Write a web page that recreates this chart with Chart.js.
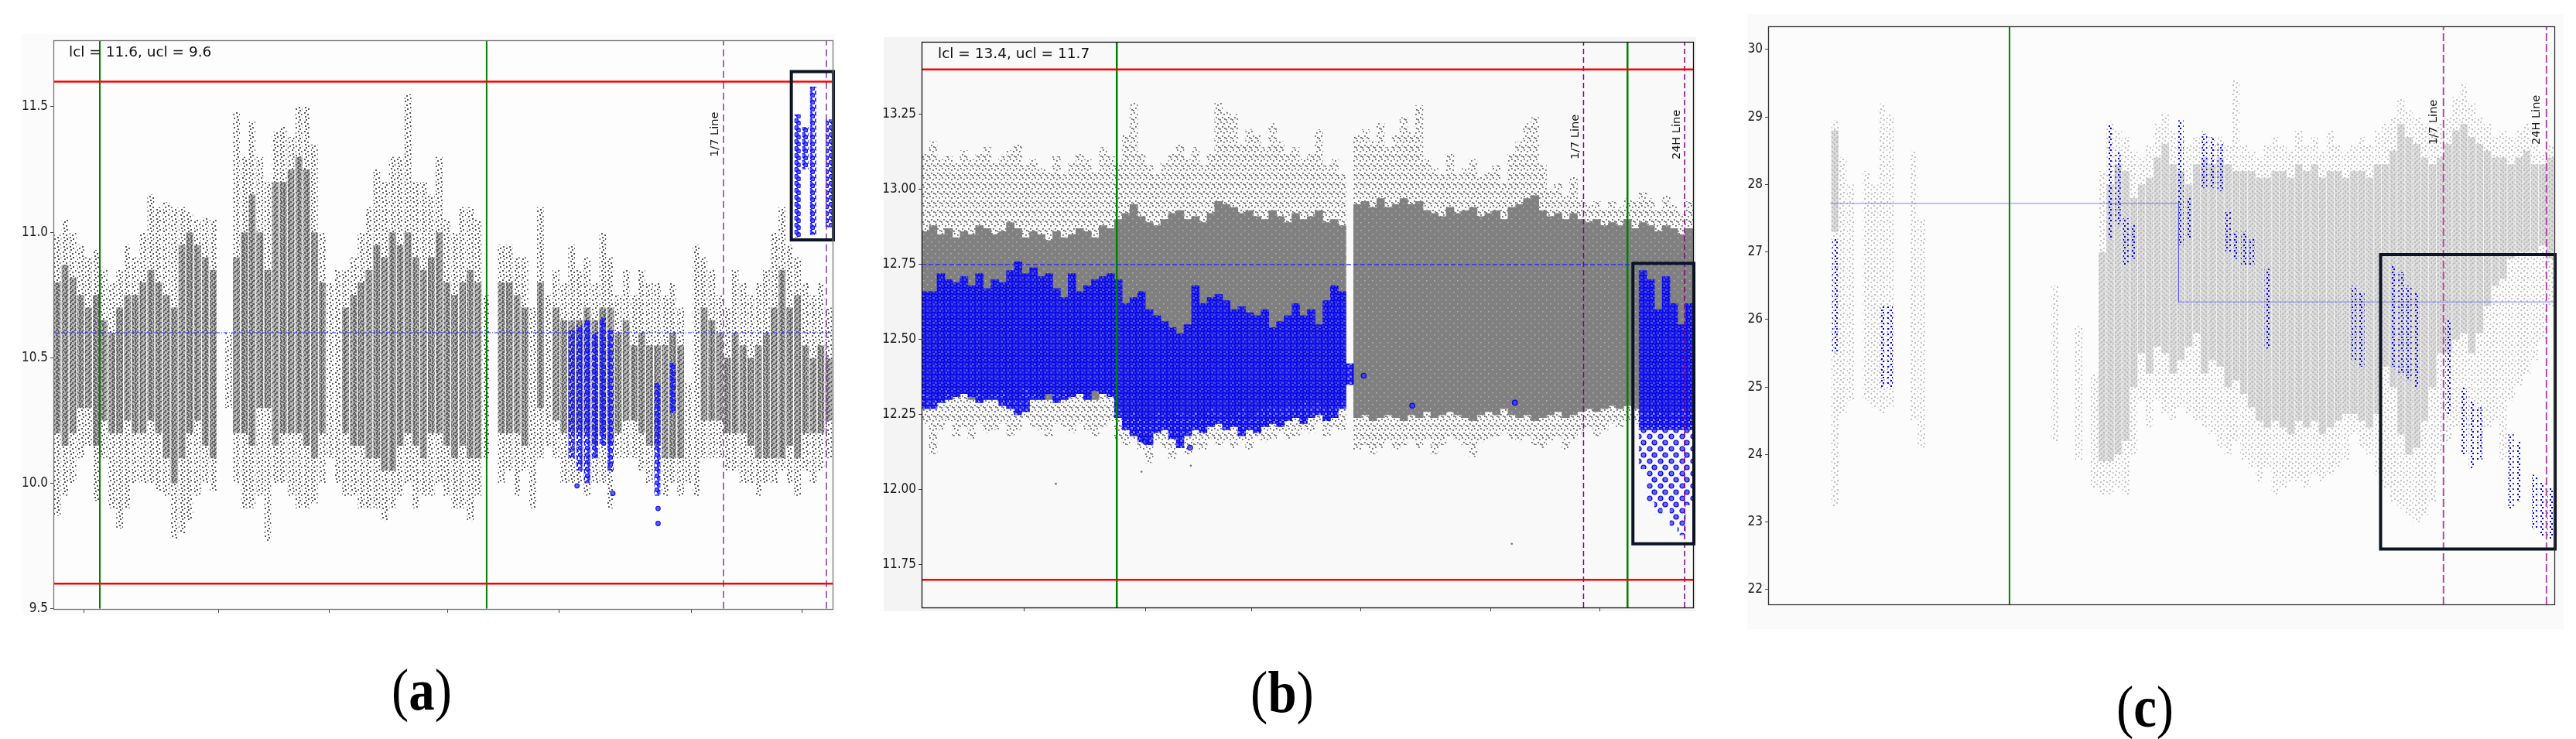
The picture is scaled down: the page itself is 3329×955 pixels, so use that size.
<!DOCTYPE html>
<html>
<head>
<meta charset="utf-8">
<script src="https://cdn.jsdelivr.net/npm/chart.js@4.4.1/dist/chart.umd.min.js"></script>
<style>
  body { margin: 0; width: 3329px; height: 955px; background: #fff; position: relative; overflow: hidden; }
  .fig { position: absolute; }
  canvas { position: absolute; top: 0; }
  .cap {
    position: absolute; width: 200px; text-align: center;
    font-family: 'Liberation Serif', 'DejaVu Serif', serif;
    font-size: 76px; line-height: 76px; color: #000;
    transform: scaleX(0.88);
  }
  .cap b { font-weight: bold; }
</style>
</head>
<body>
<div class="fig" style="left:28px;top:44px;width:1052px;height:750px;background:#fbfbfb"></div>
<div class="fig" style="left:1142px;top:48px;width:1050px;height:742px;background:#f4f4f4"></div>
<div class="fig" style="left:2258px;top:18px;width:1055px;height:795px;background:#fafafa"></div>

<canvas id="panelA" width="1090" height="800" style="left:0px"></canvas>
<canvas id="panelB" width="1080" height="800" style="left:1120px"></canvas>
<canvas id="panelC" width="1100" height="800" style="left:2220px"></canvas>

<div class="cap" style="left:445px;top:853px">(<b>a</b>)</div>
<div class="cap" style="left:1557px;top:856px">(<b>b</b>)</div>
<div class="cap" style="left:2672px;top:875px">(<b>c</b>)</div>

<script>
// Three control-chart panels. The x axis of every panel runs 0..100 (time index,
// read as % of the plotted span); the point clouds are summarised per 1-unit slot
// as a sparse outer range and a dense core range.

// ---------------- panel (a) ----------------
const A_Y_TICKS = [9.5, 10.0, 10.5, 11.0, 11.5];
const A_X_TICKS = [3.97, 21.25, 35.45, 50.6, 64.85, 81.9, 96.1];
const A_LIMITS = [11.6, 9.6];          // lcl, ucl lines
const A_MEAN = 10.6;
const A_GREEN = [5.96, 55.6];
const A_PURPLE = [86.0, 99.2];
const A_BOX_X = [94.7, 100.1, 100.1, 94.7, 94.7];
const A_BOX_Y = [11.64, 11.64, 10.97, 10.97, 11.64];

const A_OUT_HI = [10.99,11.05,11.00,10.95,10.90,10.93,10.85,10.80,10.85,10.95,
  10.90,11.00,11.15,11.10,11.12,11.10,11.10,11.08,11.05,11.06,
  11.05,null,10.60,11.48,11.30,11.44,11.30,11.20,11.40,11.42,
  11.38,11.50,11.50,11.35,11.00,10.80,10.85,10.85,10.90,11.00,
  11.10,11.25,11.20,11.30,11.30,11.55,11.20,11.20,11.15,11.30,
  11.05,11.00,11.10,11.10,11.05,10.75,null,10.95,10.95,10.90,
  10.90,10.70,11.10,10.75,10.85,10.80,10.95,10.85,10.90,10.80,
  11.00,10.90,10.75,10.85,10.75,10.85,10.80,10.80,10.75,10.80,
  10.70,10.40,10.95,10.90,10.85,10.75,10.70,10.85,10.80,10.75,
  10.80,10.85,11.00,11.10,10.95,10.90,10.80,10.75,10.80,10.70];
const A_OUT_LO = [9.87,9.95,10.00,10.10,10.15,9.93,10.10,9.90,9.82,9.90,
  10.00,10.00,10.00,9.97,9.95,9.78,9.80,9.85,9.95,10.00,
  9.97,null,10.30,10.00,9.90,9.90,9.95,9.77,10.00,10.00,
  9.95,9.90,9.90,9.92,10.00,10.10,10.00,9.95,9.95,9.90,
  9.90,9.90,9.85,9.90,9.95,10.00,9.90,9.95,9.95,10.00,
  9.95,9.90,9.90,9.85,9.95,10.10,null,10.00,10.05,9.95,
  10.05,9.90,10.10,10.15,10.10,10.00,10.00,10.00,9.95,10.00,
  10.00,9.90,10.10,10.10,10.10,10.05,10.00,10.05,9.95,10.00,
  9.95,10.00,9.95,10.10,10.10,10.10,10.05,10.05,10.00,10.00,
  9.95,10.00,10.00,10.05,10.00,9.95,10.05,10.00,10.05,10.10];
const A_CORE_HI = [10.80,10.87,10.82,10.75,10.70,10.75,10.65,10.60,10.70,10.75,
  10.75,10.80,10.85,10.80,10.75,10.70,10.95,11.00,10.95,10.90,
  10.85,null,null,10.90,11.00,11.15,11.00,10.85,11.20,11.20,
  11.25,11.30,11.25,11.00,10.80,null,null,10.70,10.75,10.80,
  10.85,10.95,10.90,11.00,10.95,11.00,10.90,10.85,10.90,11.00,
  10.80,10.75,10.80,10.85,10.80,null,null,10.80,10.80,10.75,
  10.70,null,10.80,null,10.70,10.65,10.65,10.65,10.70,10.65,
  10.70,10.70,10.60,10.65,10.55,10.60,10.55,10.55,10.55,10.60,
  10.55,null,null,10.70,10.65,10.60,10.50,10.60,10.55,10.50,
  10.55,10.60,10.70,10.85,10.70,10.75,10.55,10.50,10.55,10.50];
const A_CORE_LO = [10.20,10.15,10.20,10.30,10.30,10.15,10.25,10.20,10.20,10.25,
  10.20,10.20,10.25,10.20,10.10,10.00,10.10,10.20,10.25,10.15,
  10.10,null,null,10.20,10.20,10.15,10.30,10.30,10.15,10.20,
  10.20,10.20,10.15,10.10,10.20,null,null,10.20,10.15,10.15,
  10.10,10.10,10.05,10.05,10.15,10.20,10.15,10.10,10.20,10.20,
  10.15,10.10,10.15,10.10,10.10,null,null,10.20,10.20,10.20,
  10.15,null,10.30,null,10.25,10.20,10.20,10.20,10.20,10.15,
  10.20,10.15,10.20,10.25,10.25,10.20,10.15,10.15,10.10,10.10,
  10.10,null,null,10.25,10.25,10.25,10.20,10.20,10.20,10.15,
  10.10,10.10,10.10,10.10,10.15,10.10,10.20,10.20,10.20,10.25];
const A_BLUE_SLOTS = [66, 67, 68, 69, 70, 71, 77, 79, 95, 96, 97, 99];
const A_BLUE_HI = [10.61, 10.63, 10.65, 10.60, 10.66, 10.61, 10.40, 10.48, 11.47, 11.42, 11.58, 11.45];
const A_BLUE_LO = [10.10, 10.05, 10.00, 10.10, 10.15, 10.05, 9.95, 10.28, 10.98, 11.25, 10.99, 11.02];
const A_BLUE_PTS_X = [67.2, 71.8, 77.6, 77.6];
const A_BLUE_PTS_Y = [9.99, 9.96, 9.90, 9.84];

// ---------------- panel (b) ----------------
const B_Y_TICKS = [11.75, 12.0, 12.25, 12.5, 12.75, 13.0, 13.25];
const B_X_TICKS = [13.3, 29.0, 42.8, 56.9, 73.8, 87.9];
const B_LIMITS = [13.4, 11.7];
const B_MEAN = 12.75;
const B_GREEN = [25.3, 91.5];
const B_PURPLE = [85.8, 98.9];
const B_BOX_X = [92.2, 100.1, 100.1, 92.2, 92.2];
const B_BOX_Y = [12.754, 12.754, 11.82, 11.82, 12.754];

const B_OUT_HI = [13.12,13.16,13.10,13.11,13.09, 13.13,13.10,13.12,13.14,13.09,
  13.11,13.13,13.15,13.08,13.10, 13.07,13.06,13.11,13.05,13.09,
  13.12,13.10,13.06,13.14,13.11, 13.09,13.18,13.29,13.12,13.08,
  13.05,13.09,13.12,13.15,13.10, 13.14,13.08,13.12,13.29,13.26,
  13.25,13.15,13.20,13.18,13.14, 13.22,13.16,13.12,13.14,13.10,
  13.12,13.20,13.08,13.10,13.05, null,13.18,13.20,13.16,13.22,
  13.14,13.18,13.24,13.19,13.28, 13.10,13.07,13.05,13.12,13.05,
  13.07,13.10,13.04,13.06,13.08, 13.02,13.12,13.16,13.22,13.24,
  13.08,13.00,13.02,12.98,13.04, 12.97,12.95,12.96,12.93,12.96,
  12.94,12.97,12.96,12.99,12.97, 12.93,12.98,12.95,12.92,12.96];
const B_OUT_LO = [12.22,12.12,12.20,12.23,12.18, 12.21,12.17,12.22,12.19,12.20,
  12.22,12.18,12.20,12.24,12.21, 12.20,12.18,12.22,12.21,12.19,
  12.22,12.20,12.18,12.21,12.23, 12.17,12.15,12.17,12.13,12.09,
  12.16,12.14,12.10,12.15,12.12, 12.15,12.13,12.17,12.15,12.16,
  12.14,12.16,12.13,12.18,12.16, 12.17,12.19,12.17,12.18,12.20,
  12.19,12.22,12.18,12.21,12.20, null,12.13,12.15,12.12,12.14,
  12.16,12.13,12.15,12.17,12.14, 12.17,12.12,12.15,12.18,12.16,
  12.15,12.11,12.16,12.17,12.18, 12.19,12.17,12.16,12.18,12.15,
  12.14,12.16,12.18,12.13,12.17, 12.19,12.21,12.18,12.20,12.22,
  12.21,12.23,12.22,12.20,12.24, 12.22,12.21,12.23,12.24,12.22];
const B_CORE_HI = [12.86,12.88,12.85,12.87,12.84, 12.86,12.85,12.88,12.87,12.85,
  12.86,12.89,12.87,12.84,12.86, 12.85,12.83,12.86,12.84,12.85,
  12.87,12.86,12.84,12.88,12.87, 12.90,12.92,12.95,12.91,12.89,
  12.88,12.90,12.92,12.93,12.90, 12.91,12.89,12.92,12.96,12.95,
  12.94,12.92,12.93,12.91,12.90, 12.93,12.91,12.89,12.92,12.90,
  12.91,12.93,12.89,12.90,12.88, null,12.95,12.96,12.94,12.97,
  12.94,12.95,12.97,12.95,12.96, 12.93,12.92,12.91,12.94,12.92,
  12.93,12.94,12.91,12.92,12.93, 12.90,12.94,12.95,12.97,12.98,
  12.93,12.91,12.92,12.90,12.92, 12.90,12.89,12.90,12.88,12.89,
  12.88,12.90,12.87,12.89,12.88, 12.86,12.88,12.87,12.85,12.87];
const B_CORE_LO = [12.32,12.30,12.31,12.33,12.31, 12.32,12.30,12.33,12.31,12.32,
  12.33,12.30,12.31,12.34,12.32, 12.31,12.30,12.32,12.33,12.31,
  12.32,12.31,12.30,12.32,12.33, 12.27,12.25,12.26,12.24,12.23,
  12.26,12.25,12.24,12.26,12.25, 12.26,12.24,12.27,12.26,12.25,
  12.25,12.27,12.24,12.26,12.27, 12.28,12.27,12.28,12.27,12.29,
  12.28,12.29,12.27,12.28,12.29, null,12.24,12.25,12.23,12.24,
  12.25,12.24,12.23,12.25,12.24, 12.26,12.24,12.25,12.26,12.25,
  12.24,12.23,12.25,12.26,12.25, 12.27,12.25,12.24,12.25,12.23,
  12.24,12.25,12.26,12.24,12.25, 12.26,12.27,12.26,12.27,12.28,
  12.27,12.28,12.27,12.26,12.27, 12.26,12.25,12.26,12.27,12.26];
const B_BLUE_SLOTS = [0,1,2,3,4,5,6,7,8,9,10,11,12,13,14,15,16,17,18,19,20,21,22,23,24,
  25,26,27,28,29,30,31,32,33,34,35,36,37,38,39,40,41,42,43,44,45,46,47,48,49,50,51,52,53,54,55,
  93,94,95,96,97,98,99];
const B_BLUE_HI = [12.66,12.66,12.72,12.70,12.69, 12.71,12.68,12.72,12.67,12.70,
  12.69,12.73,12.76,12.72,12.74, 12.71,12.72,12.67,12.64,12.72,
  12.66,12.68,12.70,12.71,12.72, 12.70,12.62,12.64,12.66,12.60,
  12.58,12.56,12.54,12.52,12.55, 12.68,12.62,12.64,12.65,12.63,
  12.60,12.61,12.59,12.58,12.60, 12.54,12.56,12.58,12.62,12.58,
  12.60,12.55,12.63,12.68,12.66, 12.42,
  12.73,12.70,12.60,12.71,12.62,12.55,12.62];
const B_BLUE_LO = [12.27,12.27,12.29,12.30,12.31, 12.32,12.31,12.29,12.30,12.30,
  12.28,12.27,12.25,12.26,12.30, 12.30,12.32,12.29,12.30,12.31,
  12.32,12.30,12.33,12.32,12.31, 12.24,12.20,12.18,12.16,12.15,
  12.19,12.20,12.17,12.14,12.18, 12.20,12.19,12.21,12.22,12.20,
  12.21,12.18,12.20,12.19,12.21, 12.22,12.21,12.23,12.24,12.22,
  12.24,12.25,12.23,12.24,12.27, 12.35,
  12.20,12.20,12.20,12.20,12.20,12.20,12.20];
const B_TAIL_SLOTS = [93, 94, 95, 96, 97, 98, 99];
const B_TAIL_HI = [12.20, 12.20, 12.20, 12.20, 12.20, 12.20, 12.20];
const B_TAIL_LO = [12.07, 11.96, 11.92, 11.94, 11.88, 11.85, 11.95];
const B_BLUE_PTS_X = [57.3, 63.6, 76.9, 29.0, 34.8];
const B_BLUE_PTS_Y = [12.38, 12.28, 12.29, 12.16, 12.14];
const B_GRAY_PTS_X = [17.4, 76.5, 28.5, 34.9];
const B_GRAY_PTS_Y = [12.02, 11.82, 12.06, 12.08];

// ---------------- panel (c) ----------------
const C_Y_TICKS = [22, 23, 24, 25, 26, 27, 28, 29, 30];
const C_GREEN = [30.7];
const C_PURPLE = [85.9, 99.0];
const C_MEAN_X = [7.9, 52.2, 52.2, 100];
const C_MEAN_Y = [27.72, 27.72, 26.26, 26.26];
const C_BOX_X = [77.9, 100.1, 100.1, 77.9, 77.9];
const C_BOX_Y = [26.96, 26.96, 22.6, 22.6, 26.96];

const C_OUT_HI = [null,null,null,null,null,null,null,null,28.95,28.4,
  28.0,null,28.2,28.0,29.2,29.05,null,null,28.5,27.5,
  null,null,null,null,null,null,null,null,null,null,
  null,null,null,null,null,null,26.5,null,null,25.9,
  null,25.2,28.2,28.9,28.8,28.7,28.5,28.4,28.6,28.9,
  29.05,28.8,28.7,28.6,28.7,28.8,28.7,28.7,28.6,29.55,
  28.6,28.5,28.4,28.6,28.7,28.6,28.5,28.8,28.6,28.7,
  28.5,28.8,28.6,28.5,28.6,28.7,28.6,28.8,28.9,29.0,
  29.27,29.1,29.0,28.9,28.8,28.9,29.0,29.3,29.5,29.2,
  29.0,28.9,28.7,28.8,28.7,28.8,28.9,28.6,28.5,28.6];
const C_OUT_LO = [null,null,null,null,null,null,null,null,23.23,24.6,
  24.8,null,24.8,24.7,24.6,24.7,null,null,24.5,24.1,
  null,null,null,null,null,null,null,null,null,null,
  null,null,null,null,null,null,24.2,null,null,23.9,
  null,23.5,23.4,23.4,23.5,23.4,24.0,24.8,24.4,24.8,
  24.6,24.5,24.7,24.6,24.5,24.4,24.3,24.1,24.0,24.2,
  23.9,23.8,23.6,23.8,23.4,23.5,23.6,23.6,23.5,23.7,
  23.6,23.7,23.8,23.9,24.3,24.1,24.0,23.7,23.5,23.3,
  23.2,23.1,23.0,23.1,23.3,24.0,24.2,24.4,24.5,24.3,
  24.1,24.4,24.5,23.9,24.8,25.0,25.2,25.4,25.7,26.2];
const C_CORE_HI = [null,null,null,null,null,null,null,null,28.8,null,
  null,null,null,null,null,null,null,null,null,null,
  null,null,null,null,null,null,null,null,null,null,
  null,null,null,null,null,null,null,null,null,null,
  null,null,27.0,28.0,28.3,28.2,27.8,28.0,28.1,28.4,
  28.6,28.3,28.2,28.0,28.3,28.4,28.3,28.4,28.3,28.2,
  28.2,28.2,28.1,28.1,28.2,28.2,28.1,28.3,28.2,28.3,
  28.1,28.2,28.2,28.1,28.2,28.2,28.1,28.3,28.3,28.5,
  28.9,28.7,28.6,28.4,28.3,28.4,28.6,28.8,28.9,28.7,
  28.6,28.5,28.4,28.4,28.3,28.4,28.5,28.3,28.3,28.4];
const C_CORE_LO = [null,null,null,null,null,null,null,null,27.3,null,
  null,null,null,null,null,null,null,null,null,null,
  null,null,null,null,null,null,null,null,null,null,
  null,null,null,null,null,null,null,null,null,null,
  null,null,23.9,23.9,24.0,24.2,25.0,25.5,25.2,25.6,
  25.5,25.2,25.4,25.6,25.8,25.2,25.4,25.3,25.0,25.1,
  24.9,24.7,24.5,24.4,24.5,24.4,24.3,24.5,24.4,24.5,
  24.3,24.4,24.5,24.6,24.6,24.5,24.4,24.6,25.3,25.0,
  24.3,24.0,24.1,24.5,25.0,25.5,25.5,25.7,25.8,25.5,
  25.8,26.2,26.5,26.6,26.9,27.0,27.0,27.0,27.1,26.9];
const C_BLUE_SLOTS = [8, 14, 15, 43, 44, 45, 46, 52, 53, 55, 56, 57, 58, 59, 60, 61,
  63, 74, 75, 79, 80, 81, 82, 86, 88, 89, 90, 94, 95, 97, 98, 99];
const C_BLUE_HI = [27.2, 26.2, 26.2, 28.9, 28.5, 27.5, 27.4, 28.95, 27.8, 28.75, 28.7, 28.6, 27.6, 27.3, 27.3, 27.2,
  26.75, 26.5, 26.4, 26.8, 26.7, 26.5, 26.4, 26.0, 25.0, 24.8, 24.7, 24.3, 24.2, 23.7, 23.6, 23.5];
const C_BLUE_LO = [25.5, 25.0, 25.0, 27.2, 27.4, 26.8, 26.9, 27.1, 27.2, 27.95, 27.95, 27.9, 27.0, 26.9, 26.8, 26.8,
  25.57, 25.4, 25.3, 25.3, 25.2, 25.1, 25.0, 24.6, 24.0, 23.8, 23.9, 23.2, 23.3, 22.9, 22.8, 22.75];

// ---------------- helpers ----------------
Chart.defaults.font.family = "'DejaVu Sans', sans-serif";

function slotBars(hi, lo) {
  const out = [];
  hi.forEach((h, i) => { if (h != null && lo[i] != null) out.push({ x: i + 0.5, y: [lo[i], h] }); });
  return out;
}
function listBars(slots, hi, lo) {
  return slots.map((s, i) => ({ x: s + 0.5, y: [lo[i], hi[i]] }));
}
function pts(xs, ys) { return xs.map((x, i) => ({ x, y: ys[i] })); }

// texture tiles for the point clouds (pure styling)
function tile(w, h, paint) {
  const c = document.createElement('canvas');
  c.width = w; c.height = h;
  const g = c.getContext('2d');
  paint(g, w, h);
  return g.createPattern(c, 'repeat');
}
function dotTile(w, h, color, size, spots, bg) {
  return tile(w, h, (g) => {
    if (bg) { g.fillStyle = bg; g.fillRect(0, 0, w, h); }
    g.fillStyle = color;
    spots.forEach(([x, y]) => g.fillRect(x, y, size, size));
  });
}
function ringTile(w, h, stroke, fill, r, spots, bg) {
  return tile(w, h, (g) => {
    if (bg) { g.fillStyle = bg; g.fillRect(0, 0, w, h); }
    spots.forEach(([x, y]) => {
      g.beginPath(); g.arc(x, y, r, 0, Math.PI * 2);
      g.fillStyle = fill; g.fill();
      g.lineWidth = 1.2; g.strokeStyle = stroke; g.stroke();
    });
  });
}

function barSet(data, fill, order, pct) {
  return { type: 'bar', data, backgroundColor: fill, borderWidth: 0, grouped: false,
    barPercentage: pct || 1, categoryPercentage: 1, order };
}
function lineSet(data, st, order) {
  return { type: 'line', data, borderColor: st.color, borderWidth: st.width, borderDash: st.dash || [],
    pointRadius: 0, fill: false, tension: 0, order, clip: st.clip,
    borderCapStyle: st.cap || 'butt', borderJoinStyle: 'miter' };
}
function dotSet(data, st, order) {
  return { type: 'scatter', data, pointRadius: st.r, pointBackgroundColor: st.fill,
    pointBorderColor: st.stroke, pointBorderWidth: st.bw || 0, order };
}

function decor(cfg) {
  return {
    id: 'decor',
    beforeDraw(chart) {
      const { ctx, chartArea: a } = chart;
      ctx.save();
      ctx.fillStyle = cfg.plotBg;
      ctx.fillRect(a.left, a.top, a.right - a.left, a.bottom - a.top);
      ctx.restore();
    },
    afterDatasetsDraw(chart) {
      const { ctx, chartArea: a, scales } = chart;
      ctx.save();
      ctx.fillStyle = '#111';
      if (cfg.note) {
        ctx.font = "18.5px 'DejaVu Sans'";
        ctx.textBaseline = 'middle';
        ctx.fillText(cfg.note, a.left + cfg.noteDx, a.top + 16);
      }
      ctx.font = "14.5px 'DejaVu Sans'";
      ctx.textBaseline = 'alphabetic';
      cfg.labels.forEach((l) => {
        ctx.save();
        ctx.translate(scales.x.getPixelForValue(l.x) - cfg.labelGap, scales.y.getPixelForValue(l.y));
        ctx.rotate(-Math.PI / 2);
        ctx.fillText(l.text, 0, 0);
        ctx.restore();
      });
      ctx.restore();
    },
    afterDraw(chart) {
      const { ctx, chartArea: a } = chart;
      ctx.save();
      ctx.strokeStyle = cfg.frame;
      ctx.lineWidth = 1.3;
      ctx.strokeRect(Math.round(a.left) + 0.5, Math.round(a.top) + 0.5,
        Math.round(a.right - a.left), Math.round(a.bottom - a.top));
      ctx.restore();
    }
  };
}

function buildPanel(id, p) {
  const ds = [];
  ds.push(barSet(slotBars(p.outHi, p.outLo), p.look.outer, 7, p.look.pct));
  ds.push(barSet(slotBars(p.coreHi, p.coreLo), p.look.core, 6, p.look.pct));
  if (p.grayPts) ds.push(dotSet(p.grayPts, p.look.grayDot, 6));
  ds.push(barSet(p.blue, p.look.blue, 5, p.look.bluePct));
  if (p.tail) ds.push(barSet(p.tail, p.look.tail, 5, p.look.bluePct));
  if (p.bluePts) ds.push(dotSet(p.bluePts, p.look.blueDot, 4));
  p.lines.forEach((l) => ds.push(lineSet(l.data, l.st, l.order || 2)));
  ds.push(lineSet(p.box, { color: '#0c1424', width: 4, clip: false, cap: 'square' }, 0));

  new Chart(document.getElementById(id), {
    type: 'bar',
    data: { datasets: ds },
    options: {
      responsive: false,
      animation: false,
      events: [],
      layout: { padding: { top: p.geom.top, right: p.geom.right, left: 0, bottom: 0 } },
      plugins: { legend: { display: false }, tooltip: { enabled: false } },
      scales: {
        x: {
          type: 'linear', min: 0, max: 100, offset: false,
          grid: { display: p.xTicks.length > 0, drawOnChartArea: false, drawTicks: true, tickLength: 5,
            color: '#444', offset: false },
          border: { display: false },
          ticks: { autoSkip: false, callback: () => '', padding: 0 },
          afterBuildTicks: (s) => { if (p.xTicks.length) s.ticks = p.xTicks.map((v) => ({ value: v })); },
          afterFit: (s) => { s.height = p.geom.xh; }
        },
        y: {
          type: 'linear', min: p.yMin, max: p.yMax, beginAtZero: false,
          grid: { drawOnChartArea: false, drawTicks: true, tickLength: 4, color: '#444' },
          border: { display: false },
          ticks: { autoSkip: false, padding: 3, color: '#1a1a1a',
            font: { family: "'DejaVu Sans Condensed', 'DejaVu Sans', sans-serif", size: 17 },
            callback: (v) => Number(v).toFixed(p.decimals) },
          afterBuildTicks: (s) => { s.ticks = p.yTicks.map((v) => ({ value: v })); },
          afterFit: (s) => { s.width = p.geom.yw; }
        }
      }
    },
    plugins: [decor(p.decor)]
  });
}

// ---------------- looks ----------------
const LOOK_A = {
  pct: 0.86, bluePct: 0.8,
  outer: dotTile(8, 12, '#5a5a5a', 2, [[1, 1], [5, 3], [2, 6], [6, 8], [3, 10]]),
  core: dotTile(6, 6, '#5c5c5c', 2, [[0, 0], [3, 2], [1, 4]], 'rgba(125,125,125,0.55)'),
  blue: ringTile(9, 9, '#0c0cff', 'rgba(30,30,255,0.7)', 2.6, [[3, 3], [6.2, 6.2]]),
  blueDot: { r: 2.8, fill: 'rgba(30,30,255,0.7)', stroke: '#0c0cff', bw: 1.2 }
};
const LOOK_B = {
  pct: 1, bluePct: 1,
  outer: dotTile(8, 12, '#6a6a6a', 1.8, [[1, 1], [5, 3], [3, 7], [6, 9], [0, 10]]),
  core: dotTile(10, 10, '#b4b4b4', 1.5, [[3, 2], [8, 7]], '#808080'),
  grayDot: { r: 1.3, fill: '#707070', stroke: '#707070', bw: 0 },
  blue: ringTile(8, 8, '#0000e6', '#2626ff', 2.4, [[2.5, 2.5], [5.8, 5.8]], 'rgba(40,40,255,0.55)'),
  tail: ringTile(14, 16, '#0000e6', 'rgba(40,40,255,0.7)', 3, [[4, 4], [10, 12]]),
  blueDot: { r: 3.2, fill: 'rgba(40,40,255,0.7)', stroke: '#0000e6', bw: 1.2 }
};
const LOOK_C = {
  pct: 0.92, bluePct: 0.7,
  outer: dotTile(8, 12, '#c2c2c2', 2, [[1, 1], [5, 4], [2, 8], [6, 10]]),
  core: dotTile(6, 6, '#bcbcbc', 2, [[0, 0], [3, 3]], 'rgba(200,200,200,0.6)'),
  blue: dotTile(6, 7, '#0000ff', 2, [[1, 1], [3, 4]])
};

const RED = { color: '#ff0000', width: 2.5 };

// ---------------- panel (a) ----------------
buildPanel('panelA', {
  geom: { top: 52, right: 14, yw: 69, xh: 12 },
  yMin: 9.5, yMax: 11.765, yTicks: A_Y_TICKS, xTicks: A_X_TICKS, decimals: 1,
  outHi: A_OUT_HI, outLo: A_OUT_LO, coreHi: A_CORE_HI, coreLo: A_CORE_LO,
  blue: listBars(A_BLUE_SLOTS, A_BLUE_HI, A_BLUE_LO),
  bluePts: pts(A_BLUE_PTS_X, A_BLUE_PTS_Y),
  look: LOOK_A,
  lines: [
    ...A_LIMITS.map((y) => ({ data: pts([0, 100], [y, y]), st: RED })),
    { data: pts([0, 100], [A_MEAN, A_MEAN]), st: { color: '#3434ff', width: 1, dash: [5, 2, 1, 2] } },
    ...A_GREEN.map((x) => ({ data: pts([x, x], [9.5, 11.765]), st: { color: '#008000', width: 2 } })),
    ...A_PURPLE.map((x) => ({ data: pts([x, x], [9.5, 11.765]), st: { color: '#7d3c98', width: 1.5, dash: [9, 5] } }))
  ],
  box: pts(A_BOX_X, A_BOX_Y),
  decor: { plotBg: '#fdfdfd', frame: '#777', note: 'lcl = 11.6, ucl = 9.6', noteDx: 20,
    labelGap: 7, labels: [{ text: '1/7 Line', x: A_PURPLE[0], y: 11.30 }] }
});

// ---------------- panel (b) ----------------
buildPanel('panelB', {
  geom: { top: 54, right: 12, yw: 71, xh: 15 },
  yMin: 11.608, yMax: 13.492, yTicks: B_Y_TICKS, xTicks: B_X_TICKS, decimals: 2,
  outHi: B_OUT_HI, outLo: B_OUT_LO, coreHi: B_CORE_HI, coreLo: B_CORE_LO,
  grayPts: pts(B_GRAY_PTS_X, B_GRAY_PTS_Y),
  blue: listBars(B_BLUE_SLOTS, B_BLUE_HI, B_BLUE_LO),
  tail: listBars(B_TAIL_SLOTS, B_TAIL_HI, B_TAIL_LO),
  bluePts: pts(B_BLUE_PTS_X, B_BLUE_PTS_Y),
  look: LOOK_B,
  lines: [
    ...B_LIMITS.map((y) => ({ data: pts([0, 100], [y, y]), st: RED })),
    { data: pts([0, 100], [B_MEAN, B_MEAN]), st: { color: '#2020ff', width: 1.2, dash: [6, 3] } },
    ...B_GREEN.map((x) => ({ data: pts([x, x], [11.608, 13.492]), st: { color: '#008000', width: 2.5 } })),
    ...B_PURPLE.map((x) => ({ data: pts([x, x], [11.608, 13.492]), st: { color: '#800080', width: 1.5, dash: [7, 4] } }))
  ],
  box: pts(B_BOX_X, B_BOX_Y),
  decor: { plotBg: '#f9f9f9', frame: '#111', note: 'lcl = 13.4, ucl = 11.7', noteDx: 21,
    labelGap: 6, labels: [{ text: '1/7 Line', x: B_PURPLE[0], y: 13.10 }, { text: '24H Line', x: B_PURPLE[1], y: 13.10 }] }
});

// ---------------- panel (c) ----------------
buildPanel('panelC', {
  geom: { top: 34, right: 19, yw: 65, xh: 19 },
  yMin: 21.78, yMax: 30.343, yTicks: C_Y_TICKS, xTicks: [], decimals: 0,
  outHi: C_OUT_HI, outLo: C_OUT_LO, coreHi: C_CORE_HI, coreLo: C_CORE_LO,
  blue: listBars(C_BLUE_SLOTS, C_BLUE_HI, C_BLUE_LO),
  look: LOOK_C,
  lines: [
    { data: pts(C_MEAN_X, C_MEAN_Y), st: { color: 'rgba(90,90,255,0.75)', width: 1 } },
    ...C_GREEN.map((x) => ({ data: pts([x, x], [21.78, 30.343]), st: { color: '#008000', width: 2 } })),
    ...C_PURPLE.map((x) => ({ data: pts([x, x], [21.78, 30.343]), st: { color: '#b04aa6', width: 2, dash: [10, 4] } }))
  ],
  box: pts(C_BOX_X, C_BOX_Y),
  decor: { plotBg: '#fcfcfc', frame: '#333', note: '', noteDx: 0,
    labelGap: 9, labels: [{ text: '1/7 Line', x: C_PURPLE[0], y: 28.59 }, { text: '24H Line', x: C_PURPLE[1], y: 28.59 }] }
});
</script>
</body>
</html>
